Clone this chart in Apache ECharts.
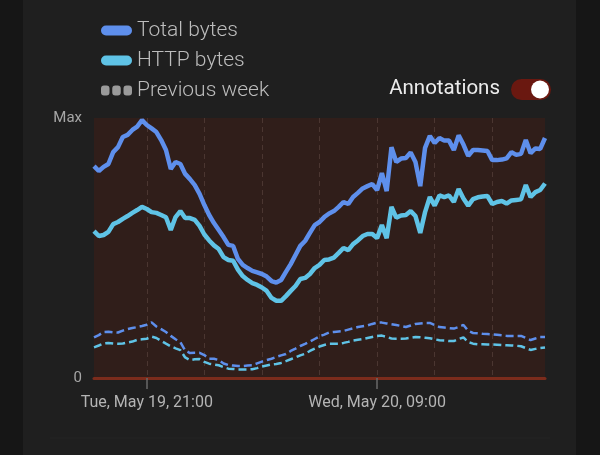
<!DOCTYPE html>
<html>
<head>
<meta charset="utf-8">
<script src="https://cdn.jsdelivr.net/npm/echarts@6/dist/echarts.min.js"></script>
<style>
  html, body { margin: 0; padding: 0; background: #161616; }
  #card { position: absolute; left: 23px; top: 0; width: 553px; height: 455px; background: #1f1f1f; }
  #chart { position: absolute; left: 0; top: 0; width: 600px; height: 455px; }
</style>
</head>
<body>
<div id="card"></div>
<div id="chart"></div>
<script>
// 15-minute buckets from Tue May 19 18:15 to Wed May 20 17:45
const startMinutes = 18 * 60 + 15;
const stepMinutes = 15;
const pointCount = 95;

const tickLabels = {
  '05-19 21:00': 'Tue, May 19, 21:00',
  '05-20 09:00': 'Wed, May 20, 09:00'
};

const totalBytes = [
  81.5, 79.6, 81.2, 82.3, 86.9, 88.8, 92.7, 93.5, 95.4, 96.7,
  99.2, 97.3, 96.0, 94.6, 91.5, 87.7, 80.4, 83.1, 82.3, 78.5,
  76.5, 74.2, 70.8, 66.5, 62.7, 59.6, 56.9, 54.2, 51.2, 50.8,
  45.8, 43.5, 42.3, 41.2, 40.6, 40.0, 39.0, 37.3, 36.7, 37.7,
  40.8, 43.8, 47.3, 50.8, 52.7, 55.8, 58.8, 60.0, 61.9, 63.3,
  64.2, 65.8, 67.7, 66.9, 69.6, 71.2, 72.9, 73.8, 74.6, 72.3,
  78.8, 71.9, 88.8, 83.1, 84.4, 84.6, 86.7, 83.1, 73.8, 88.5,
  93.1, 90.4, 92.3, 91.3, 91.3, 87.7, 93.3, 89.8, 85.4, 87.7,
  87.7, 87.5, 87.3, 83.8, 83.8, 84.0, 84.5, 86.9, 85.8, 86.2,
  91.5, 86.5, 88.3, 88.1, 92.3
];

const httpBytes = [
  56.5, 54.6, 55.0, 56.2, 59.2, 60.0, 61.2, 62.3, 63.5, 64.6,
  65.8, 65.0, 63.8, 63.5, 62.7, 61.8, 56.9, 61.9, 64.2, 61.5,
  61.5, 60.8, 58.5, 55.2, 52.9, 51.0, 49.6, 46.5, 45.4, 45.1,
  41.7, 39.2, 37.7, 36.5, 35.8, 34.8, 33.5, 30.8, 29.7, 29.7,
  31.5, 33.5, 35.4, 38.1, 38.5, 40.0, 42.3, 43.5, 45.4, 45.6,
  46.3, 48.1, 50.0, 49.2, 51.5, 52.9, 54.6, 55.4, 55.4, 53.8,
  58.8, 53.8, 65.8, 61.7, 62.5, 62.7, 64.2, 62.3, 55.8, 63.8,
  69.6, 66.3, 70.2, 69.6, 70.2, 67.7, 72.7, 69.0, 66.3, 68.8,
  69.5, 69.8, 70.0, 66.9, 67.7, 68.1, 67.1, 68.3, 68.5, 68.7,
  74.2, 69.6, 71.5, 72.3, 74.8
];

const prevTotalBytes = [
  15.6, 16.5, 17.7, 17.8, 17.6, 17.5, 18.2, 18.8, 19.2, 19.6,
  20.0, 20.5, 21.4, 19.8, 18.8, 17.7, 16.2, 14.9, 13.8, 10.6,
  9.6, 9.7, 9.7, 8.8, 7.4, 7.4, 6.9, 5.6, 5.0, 4.8,
  4.6, 4.6, 4.8, 4.9, 5.6, 6.3, 6.9, 7.4, 8.1, 8.7,
  9.2, 10.4, 11.3, 12.3, 13.1, 14.0, 15.0, 16.0, 16.7, 17.5,
  17.7, 17.9, 18.1, 18.6, 19.1, 19.6, 19.9, 20.2, 20.8, 21.3,
  21.3, 21.0, 20.7, 20.4, 20.0, 19.6, 20.2, 20.8, 21.0, 21.2,
  21.2, 20.4, 19.6, 19.4, 19.2, 19.0, 19.6, 20.4, 18.1, 17.3,
  17.2, 17.0, 16.9, 16.8, 16.6, 16.4, 16.2, 16.2, 16.2, 16.2,
  15.4, 14.6, 15.2, 15.8, 15.8
];

const prevHttpBytes = [
  11.8, 12.5, 13.3, 13.5, 13.3, 13.2, 13.3, 13.7, 14.0, 14.7,
  14.9, 15.1, 15.9, 15.4, 14.3, 13.2, 12.2, 11.4, 10.7, 7.9,
  6.9, 7.2, 7.3, 6.2, 5.5, 5.2, 4.9, 4.2, 3.6, 3.5,
  3.3, 3.3, 3.3, 3.4, 3.8, 4.4, 4.8, 5.2, 5.4, 5.8,
  6.5, 7.2, 7.9, 8.7, 9.3, 10.4, 11.3, 12.1, 12.7, 13.2,
  13.2, 13.2, 13.5, 13.9, 14.4, 14.7, 15.0, 15.4, 15.8, 16.2,
  16.3, 15.8, 15.2, 15.1, 15.1, 15.2, 15.5, 15.8, 15.7, 15.5,
  15.3, 14.9, 14.5, 14.4, 14.2, 14.2, 15.0, 15.6, 13.8, 13.2,
  13.0, 13.0, 12.9, 12.9, 12.8, 12.7, 12.6, 12.5, 12.4, 12.2,
  11.5, 10.8, 11.2, 11.5, 11.7
];

const seriesNames = ['Total bytes', 'HTTP bytes', 'Previous week'];
const yMax = 100;

function pad(n) { return (n < 10 ? '0' : '') + n; }
const categories = [];
for (let i = 0; i < pointCount; i++) {
  const m = startMinutes + i * stepMinutes;
  const day = 19 + Math.floor(m / 1440);
  const mm = m % 1440;
  categories.push('05-' + day + ' ' + pad(Math.floor(mm / 60)) + ':' + pad(mm % 60));
}
const gridHours = ['21:00', '00:00', '03:00', '06:00', '09:00', '12:00', '15:00', '18:00'];
const isThreeHour = (idx, val) => gridHours.indexOf(val.slice(-5)) >= 0;
const isLabelled = (idx, val) => tickLabels.hasOwnProperty(val);

function rr(x, w) {
  return 'M' + (x + 3) + ',0 L' + (x + w - 3) + ',0 Q' + (x + w) + ',0 ' + (x + w) + ',3 L' + (x + w) + ',7 Q' + (x + w) + ',10 ' + (x + w - 3) + ',10 L' + (x + 3) + ',10 Q' + x + ',10 ' + x + ',7 L' + x + ',3 Q' + x + ',0 ' + (x + 3) + ',0 Z ';
}
const pillIcon = 'path://M5,0 L26,0 A5,5 0 0 1 26,10 L5,10 A5,5 0 0 1 5,0 Z';
const dashIcon = 'path://' + rr(0, 8.5) + rr(11.25, 8.5) + rr(22.5, 8.5);

const chart = echarts.init(document.getElementById('chart'), null, { renderer: 'canvas' });
chart.setOption({
  backgroundColor: 'transparent',
  animation: false,
  textStyle: { fontFamily: 'Roboto' },
  legend: {
    orient: 'vertical',
    left: 96,
    top: 15,
    itemWidth: 31,
    itemHeight: 10,
    itemGap: 9,
    selectedMode: false,
    data: [
      { name: 'Total bytes', icon: pillIcon },
      { name: 'HTTP bytes', icon: pillIcon },
      { name: 'Previous week', icon: dashIcon }
    ],
    textStyle: {
      color: '#bdbdbd',
      fontSize: 21,
      fontWeight: 300,
      fontFamily: 'Roboto',
      lineHeight: 20
    }
  },
  grid: {
    left: 94, right: 55, top: 118, bottom: 77,
    show: true, backgroundColor: '#301e1a', borderWidth: 0
  },
  xAxis: {
    type: 'category',
    data: categories,
    boundaryGap: false,
    axisLine: { show: true, lineStyle: { color: '#7c2c1c', width: 3 } },
    axisTick: { show: true, interval: isLabelled, length: 11, lineStyle: { color: '#6a6a6a', width: 1.5 } },
    axisLabel: {
      interval: isLabelled,
      formatter: (val) => tickLabels[val] || '',
      color: '#b4b4b4', fontSize: 16, margin: 17, fontFamily: 'Roboto'
    },
    splitLine: { show: true, interval: isThreeHour, lineStyle: { color: '#4b3631', type: [5, 4], width: 1 } }
  },
  yAxis: {
    type: 'value',
    min: 0, max: yMax, interval: yMax,
    axisLine: { show: false },
    axisTick: { show: false },
    splitLine: { show: false },
    axisLabel: {
      formatter: (v) => v === yMax ? 'Max' : '0',
      color: '#a6a6a6', fontSize: 15, margin: 12, fontFamily: 'Roboto'
    }
  },
  series: [
    { name: 'Total bytes (previous week)', type: 'line', data: prevTotalBytes, showSymbol: false, symbol: 'none',
      lineStyle: { color: '#5e8fec', width: 2.5, type: [8, 4] }, itemStyle: { color: '#5e8fec' } },
    { name: 'HTTP bytes (previous week)', type: 'line', data: prevHttpBytes, showSymbol: false, symbol: 'none',
      lineStyle: { color: '#5fc3e6', width: 2.5, type: [8, 4] }, itemStyle: { color: '#5fc3e6' } },
    { name: 'Previous week', type: 'line', data: [], symbol: 'none', itemStyle: { color: '#9a9a9a' }, lineStyle: { color: '#9a9a9a' } },
    { name: 'HTTP bytes', type: 'line', data: httpBytes, showSymbol: false, symbol: 'none',
      lineStyle: { color: '#5fc3e6', width: 4.5 }, itemStyle: { color: '#5fc3e6' } },
    { name: 'Total bytes', type: 'line', data: totalBytes, showSymbol: false, symbol: 'none',
      lineStyle: { color: '#5e8fec', width: 4.5 }, itemStyle: { color: '#5e8fec' } }
  ],
  graphic: [
    { type: 'line', shape: { x1: 50, y1: 438, x2: 550, y2: 438 }, style: { stroke: '#252525', lineWidth: 1 }, silent: true },
    { type: 'text', right: 100, top: 78, style: { text: 'Annotations', fill: '#ececec', fontSize: 20.5, fontFamily: 'Roboto', fontWeight: 400 } },
    { type: 'rect', shape: { x: 511, y: 79, width: 40, height: 21, r: 10.5 }, style: { fill: '#6a1810' }, silent: true },
    { type: 'circle', shape: { cx: 540, cy: 89.5, r: 9 }, style: { fill: '#ffffff' }, silent: true }
  ]
});
</script>
</body>
</html>
